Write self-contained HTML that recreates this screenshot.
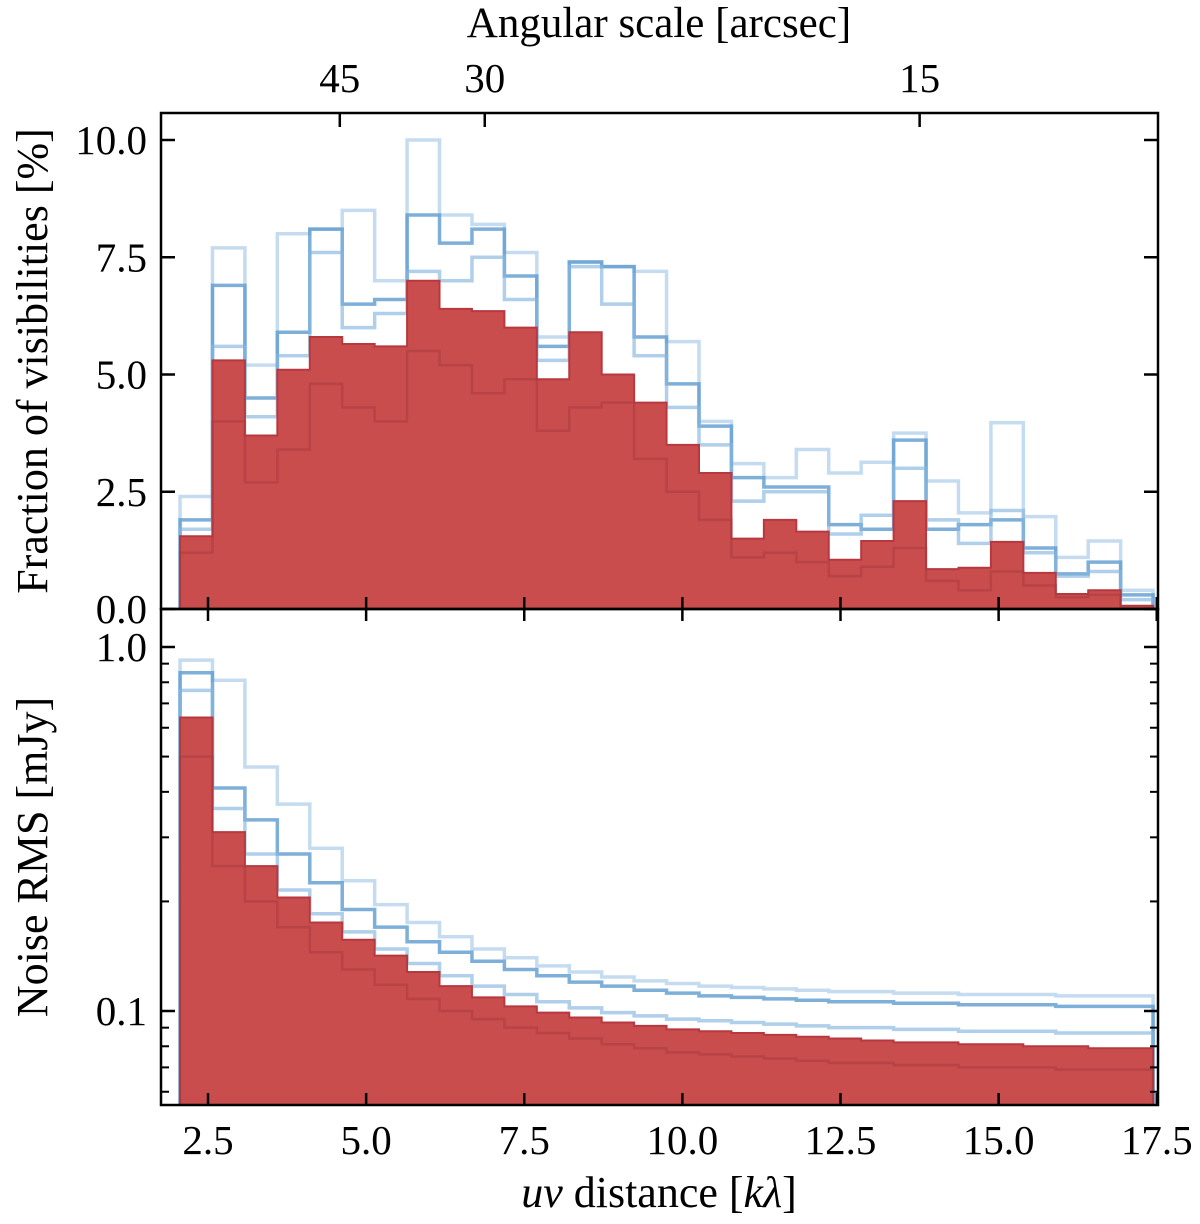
<!DOCTYPE html>
<html><head><meta charset="utf-8"><style>
body{margin:0;background:#fff}
svg text{font-family:"Liberation Serif",serif;fill:#000}
</style></head><body>
<svg width="1200" height="1219" viewBox="0 0 1200 1219" id="c"></svg>
<script>
const binStart=2.058, binWidth=0.5128;
const redFrac=[1.55,5.3,3.7,5.1,5.8,5.65,5.6,7.0,6.4,6.35,6.0,4.9,5.9,5.0,4.4,3.5,2.9,1.5,1.9,1.65,1.05,1.45,2.3,0.85,0.88,1.43,0.77,0.32,0.4,0.07];
const redFracInner=[1.2,4.0,2.7,3.4,4.8,4.3,4.0,5.5,5.2,4.6,4.9,3.8,4.3,4.4,3.2,2.5,1.9,1.1,1.2,1.0,0.7,0.9,1.3,0.6,0.4,0.8,0.5,0.25,0.3,0.05];
const blueFracA=[2.4,7.7,5.2,8.0,8.1,8.5,7.0,10.0,8.4,8.2,7.6,5.8,7.4,7.3,7.2,5.7,4.0,3.1,2.8,3.4,2.9,3.13,3.75,2.73,2.05,3.97,1.97,1.1,1.45,0.4];
const blueFracB=[1.9,6.9,4.5,5.9,8.1,6.5,6.6,8.4,7.8,8.1,7.1,5.6,7.4,7.3,5.8,4.8,3.9,2.8,2.6,2.6,1.8,1.7,3.6,1.7,1.8,1.9,1.3,0.75,1.0,0.3];
const blueFracC=[1.7,5.6,4.1,5.4,7.6,6.0,6.3,7.2,7.0,7.5,6.6,5.3,7.3,6.5,5.4,4.3,3.5,2.3,2.5,2.5,1.6,2.0,3.0,1.9,1.4,2.1,1.2,0.7,0.8,0.2];
const redRms=[0.64,0.31,0.25,0.205,0.175,0.157,0.142,0.128,0.117,0.109,0.103,0.099,0.096,0.093,0.091,0.089,0.088,0.087,0.086,0.085,0.084,0.083,0.082,0.082,0.081,0.081,0.080,0.080,0.079,0.079];
const redRmsInner=[0.5,0.25,0.2,0.17,0.145,0.13,0.118,0.108,0.1,0.095,0.09,0.087,0.084,0.081,0.079,0.077,0.076,0.075,0.074,0.073,0.072,0.072,0.071,0.071,0.070,0.070,0.070,0.069,0.069,0.069];
const blueRmsA=[0.92,0.81,0.468,0.37,0.28,0.228,0.196,0.175,0.16,0.148,0.14,0.133,0.128,0.124,0.121,0.119,0.117,0.116,0.115,0.114,0.113,0.113,0.112,0.112,0.111,0.111,0.111,0.110,0.110,0.110];
const blueRmsB=[0.85,0.41,0.335,0.27,0.225,0.19,0.17,0.155,0.145,0.137,0.13,0.125,0.12,0.117,0.114,0.112,0.110,0.109,0.108,0.107,0.106,0.106,0.105,0.105,0.104,0.104,0.104,0.103,0.103,0.103];
const blueRmsC=[0.76,0.36,0.27,0.215,0.185,0.165,0.148,0.135,0.125,0.117,0.111,0.106,0.102,0.099,0.097,0.095,0.094,0.093,0.092,0.091,0.090,0.090,0.089,0.089,0.088,0.088,0.088,0.087,0.087,0.087];
const xTicks=[2.5,5.0,7.5,10.0,12.5,15.0,17.5];
const fracTicks=[0.0,2.5,5.0,7.5,10.0];
const angTicks=[45,30,15];

const L=161,R=1158,T1=113,B1=609,B2=1105;
const X=v=>208+(v-2.5)*63.25;
const Y1=v=>609-v*46.9;
const Y2=v=>647-(Math.log10(v))*364;
const svg=document.getElementById('c');
const NS='http://www.w3.org/2000/svg';
function el(t,a,p){const e=document.createElementNS(NS,t);for(const k in a)e.setAttribute(k,a[k]);(p||svg).appendChild(e);return e;}
function stepPath(vals,Y,base,close){
  let d='';
  vals.forEach((v,i)=>{const x0=X(binStart+i*binWidth),x1=X(binStart+(i+1)*binWidth),y=Y(v);
    d+=(i===0?'M'+x0+','+base+'L'+x0+','+y:'L'+x0+','+y)+'L'+x1+','+y;});
  const xe=X(binStart+vals.length*binWidth);d+='L'+xe+','+base;if(close)d+='Z';return d;}
function panel(name,Y,base,red,redIn,blues){
  const g=el('g',{'clip-path':'url(#'+name+'clip)'});
  
  
  blues.forEach((b,i)=>{const p=el('path',{d:stepPath(b,Y,base,false),fill:'none',stroke:['#9ec5e6','#5d9bd0','#84b5de'][i],'stroke-width':3.5,'stroke-opacity':[0.6,0.8,0.65][i]},g);
    
    });
  const r=el('path',{d:stepPath(red,Y,base,true),fill:'#c94d4d',stroke:'#b8383f','stroke-width':2},g);
  
  
  const ri=el('path',{d:stepPath(redIn,Y,base,false),fill:'none',stroke:'#a83a40','stroke-width':2.5,'stroke-opacity':0.5},g);
  
  
}
const defs=el('defs',{});
const c1=el('clipPath',{id:'topclip'},defs);el('rect',{x:L,y:T1,width:R-L,height:B1-T1},c1);
const c2=el('clipPath',{id:'bottomclip'},defs);el('rect',{x:L,y:B1,width:R-L,height:B2-B1},c2);
panel('top',Y1,B1,redFrac,redFracInner,[blueFracA,blueFracB,blueFracC]);
panel('bottom',Y2,B2,redRms,redRmsInner,[blueRmsA,blueRmsB,blueRmsC]);
function line(x1,y1,x2,y2,w){el('line',{x1,y1,x2,y2,stroke:'#000','stroke-width':w||2.5});}
function text(x,y,s,anchor,size,name){const t=el('text',{x,y,'text-anchor':anchor,'font-size':size});t.textContent=s;
  return t;}
[[T1,B1],[B1,B2]].forEach(([a,b])=>{const r=el('rect',{x:L,y:a,width:R-L,height:b-a,fill:'none',stroke:'#000','stroke-width':2.5});
  });
xTicks.forEach(v=>{const x=X(v);
  line(x,B1-12,x,B1+12);line(x,B2,x,B2-12);
  text(x,1154,v.toFixed(1),'middle',41,'x-tick-label');});
angTicks.forEach(a=>{const x=X(206.265/a);line(x,T1,x,T1+14);text(x,92,String(a),'middle',41,'top-tick-label');});
fracTicks.forEach(v=>{const y=Y1(v);line(L,y,L+14,y);line(R,y,R-14,y);text(147,y+14,v.toFixed(1),'end',41,'y-tick-label');});
[0.1,1.0].forEach(v=>{const y=Y2(v);line(L,y,L+14,y);line(R,y,R-14,y);text(147,y+14,v.toFixed(1),'end',41,'y2-tick-label');});
[0.06,0.07,0.08,0.09,0.2,0.3,0.4,0.5,0.6,0.7,0.8,0.9].forEach(v=>{const y=Y2(v);line(L,y,L+8,y,2);line(R,y,R-8,y,2);});
text(659,37,'Angular scale [arcsec]','middle',43,'top-axis-title');
const xl=text(659,1207,'','middle',44,'x-axis-title');
xl.innerHTML='<tspan font-style="italic">uv</tspan> distance [<tspan font-style="italic">kλ</tspan>]';
const y1=text(0,0,'Fraction of visibilities [%]','middle',44,'y-axis-title-top');y1.setAttribute('transform','translate(47,361) rotate(-90)');
const y2=text(0,0,'Noise RMS [mJy]','middle',44,'y-axis-title-bottom');y2.setAttribute('transform','translate(47,857) rotate(-90)');
</script>
</body></html>
